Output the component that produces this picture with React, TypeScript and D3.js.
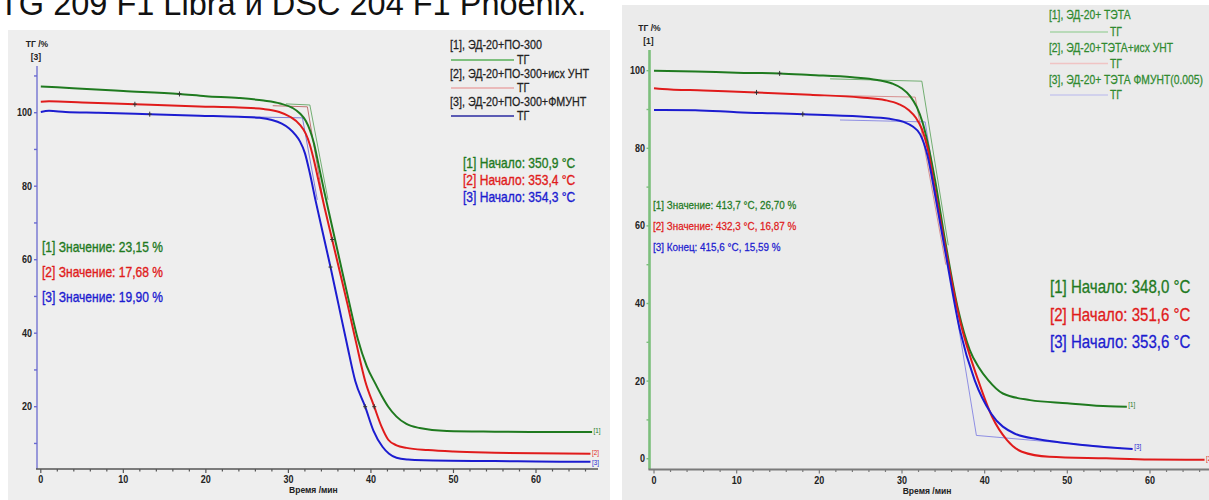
import React from 'react';
import * as d3 from 'd3';

type Pt = [number, number];

const FONT = '"Liberation Sans", Arial, Helvetica, sans-serif';

const heading = 'TG 209 F1 Libra и DSC 204 F1 Phoenix.';

// axis ticks (time in minutes, mass in %)
const timeTicks = [0, 10, 20, 30, 40, 50, 60];
const leftPctTicks = [20, 40, 60, 80, 100];
const rightPctTicks = [0, 20, 40, 60, 80, 100];
const timeTitle = 'Время /мин';
const massTitle = 'ТГ /%';

// ---------- left panel: ЭД-20 + ПО-300 ----------
const leftGreen: Pt[] = [
  [0, 107.1], [2, 106.9], [5, 106.5], [10, 105.9], [16.8, 105.1], [20, 104.5], [24, 104.0],
  [27, 103.3], [29, 102.5], [30.5, 101.3], [31.4, 99.8], [32.1, 97.8], [32.6, 95.3],
  [33.1, 91.6], [33.5, 87.5], [34.3, 79], [35.2, 70], [36.2, 60], [37.3, 49], [38.4, 38.5],
  [39.5, 31], [40.6, 26], [41.3, 23], [42.1, 20], [43.1, 17.3], [44.3, 15.3], [45.9, 14.2],
  [49.2, 13.4], [55, 13.2], [60, 13.1], [66.8, 13.1],
];
const leftRed: Pt[] = [
  [0, 103.0], [1, 103.1], [5, 102.8], [11.4, 102.3], [19.2, 101.7], [24, 101.4], [27, 101.0],
  [28.9, 100.2], [30.2, 98.9], [31.4, 96.7], [32.1, 94.3], [32.6, 91.3], [33.1, 87],
  [33.6, 82], [34.4, 74], [35.3, 65.5], [36.2, 57], [37.2, 47.5], [38.2, 37.5], [39.3, 27],
  [40.4, 20], [41.3, 14.5], [42.1, 11], [43.1, 9.5], [44.3, 8.8], [46.9, 8.2], [50, 7.8],
  [55, 7.5], [60, 7.3], [66.6, 7.2],
];
const leftBlue: Pt[] = [
  [0, 100.2], [1, 100.5], [3, 100.2], [7, 100.0], [13.2, 99.6], [19.2, 99.2], [24, 98.9],
  [26.5, 98.6], [28, 98.0], [29.2, 97.0], [30.1, 95.7], [30.8, 94.1], [31.4, 92.2], [32, 89],
  [32.6, 83.5], [33.3, 76], [34.2, 67], [35.1, 58], [36.1, 47.5], [37.1, 37], [38.1, 27],
  [39.3, 20], [40.3, 13.5], [41.4, 9.1], [42.2, 7.2], [43.1, 6.1], [44.5, 5.6], [46.4, 5.4],
  [55, 5.2], [60, 5.1], [66.6, 5.0],
];
// onset construction lines
const leftGreenOnset: Pt[] = [[29.7, 102.4], [32.6, 102.1], [34.8, 76.3]];
const leftRedOnset: Pt[] = [[28.1, 101.9], [32.3, 101.6], [34.2, 76.3]];
const leftBlueOnset: Pt[] = [[24, 98.9], [31.7, 98.6], [33.5, 76.3]];
const leftMarks: Pt[] = [
  [16.8, 105.1], [11.4, 102.3], [13.2, 99.6], [35.3, 65.5], [35.1, 58], [39.3, 20], [40.4, 20],
];
const leftLegend = ['[1], ЭД-20+ПО-300', '[2], ЭД-20+ПО-300+исх УНТ', '[3], ЭД-20+ПО-300+ФМУНТ'];
const leftResidue = ['[1] Значение: 23,15 %', '[2] Значение: 17,68 %', '[3] Значение: 19,90 %'];
const leftOnset = ['[1] Начало: 350,9 °C', '[2] Начало: 353,4 °C', '[3] Начало: 354,3 °C'];

// ---------- right panel: ЭД-20 + ТЭТА ----------
const rightGreen: Pt[] = [
  [0, 100], [5, 99.8], [10, 99.5], [15.2, 99.3], [18.9, 98.9], [24, 98.3], [27, 97.6],
  [28.8, 96.7], [30, 95.4], [31, 93.4], [31.8, 90.6], [32.5, 86.6], [33.2, 80.5], [34, 71.8],
  [35.2, 56.4], [36.8, 38.3], [38.2, 28], [39.3, 23.5], [40.4, 20.3], [42.2, 16.8],
  [45.5, 15.1], [50, 14.3], [55, 13.5], [57.2, 13.4],
];
const rightRed: Pt[] = [
  [0, 95.5], [1, 95.3], [6, 94.9], [12.4, 94.4], [18.9, 93.8], [25, 93.1], [28, 92.4],
  [29.6, 91.4], [30.8, 89.9], [31.7, 87.8], [32.4, 85], [33.1, 80], [34, 69.2], [35.2, 55],
  [37, 35.7], [39.2, 20.3], [40.9, 10.8], [42.7, 4.8], [44.5, 1.8], [47.8, 0.5], [54.7, 0.1],
  [60, -0.2], [66.6, -0.3],
];
const rightBlue: Pt[] = [
  [0, 89.9], [5, 89.8], [10, 89.3], [18, 88.8], [25, 88.2], [28.5, 87.6], [30.2, 86.8],
  [31.3, 85.6], [32.2, 83.6], [33.1, 78], [34, 68], [35.2, 53.8], [37, 33.2], [38.8, 20.2],
  [40.8, 11.6], [43.6, 6.5], [46.5, 5], [50, 4.0], [56.5, 2.7], [57.9, 2.5],
];
const rightGreenOnset: Pt[] = [[21.3, 97.9], [32.4, 97.3], [35.6, 55]];
const rightRedOnset: Pt[] = [[22, 93.6], [31.6, 93.2], [35.3, 50]];
const rightBlueOnset: Pt[] = [[22.5, 87.3], [32.8, 86.8], [39.0, 6.0], [56.5, 2.75]];
const rightMarks: Pt[] = [[15.2, 99.3], [12.4, 94.4], [18, 88.8]];
const rightLegend = ['[1], ЭД-20+ ТЭТА', '[2], ЭД-20+ТЭТА+исх УНТ', '[3], ЭД-20+ ТЭТА ФМУНТ(0.005)'];
const rightValues = ['[1] Значение: 413,7 °C, 26,70 %', '[2] Значение: 432,3 °C, 16,87 %', '[3] Конец: 415,6 °C, 15,59 %'];
const rightOnset = ['[1] Начало: 348,0 °C', '[2] Начало: 351,6 °C', '[3] Начало: 353,6 °C'];

const GREEN = '#1f7a1f';
const RED = '#e01b1b';
const BLUE = '#1c1cd0';
const seriesColors = [GREEN, RED, BLUE];

type TextProps = {
  x: number; y: number; size: number; fill?: string; sx?: number; heavy?: number;
  anchor?: 'start' | 'middle' | 'end'; weight?: number; children: React.ReactNode;
};
// condensed text, like the instrument software's narrow font
function NText({ x, y, size, fill = '#222', sx = 0.86, anchor = 'start', weight = 400, heavy = 0, children }: TextProps) {
  return (
    <text
      transform={`translate(${x},${y}) scale(${sx},1)`}
      fontFamily={FONT}
      fontSize={size}
      fill={fill}
      stroke={heavy ? fill : 'none'}
      strokeWidth={heavy}
      textAnchor={anchor}
      fontWeight={weight}
    >
      {children}
    </text>
  );
}

type Series = { data: Pt[]; color: string; tag: string; tagDy: number };
type PanelProps = {
  bg: { x: number; y: number; w: number; h: number; fill: string };
  x: d3.ScaleLinear<number, number>;
  y: d3.ScaleLinear<number, number>;
  yAxisX: number; yAxisTop: number; xAxisY: number; xAxisEnd: number;
  yAxisColor: string; yAxisWidth: number; xAxisColor: string; xAxisWidth: number;
  yTicks: number[]; ySub: string; tickLabelRight: number; titleY: number;
  series: Series[];
  onset: { data: Pt[]; color: string }[];
  marks: Pt[];
};

function Panel(p: PanelProps) {
  const line = d3.line<Pt>().x(d => p.x(d[0])).y(d => p.y(d[1])).curve(d3.curveMonotoneX);
  const straight = d3.line<Pt>().x(d => p.x(d[0])).y(d => p.y(d[1]));
  const tMax = p.x.invert(p.xAxisEnd);
  const minorX = d3.range(0, tMax, 2);
  const minorY = d3.range(-10, 121, 10).filter(v => p.y(v) >= p.yAxisTop + 2 && p.y(v) <= p.xAxisY - 2);
  const labelX = (p.x(0) + p.x(60)) / 2 + 25;
  return (
    <g>
      <rect x={p.bg.x} y={p.bg.y} width={p.bg.w} height={p.bg.h} fill={p.bg.fill} />
      {/* axis titles */}
      <NText x={p.yAxisX} y={p.titleY} size={9.5} anchor="middle" sx={0.9} weight={700}>{massTitle}</NText>
      <NText x={p.yAxisX - 1} y={p.titleY + 13} size={9.5} anchor="middle" sx={0.9} weight={700}>{p.ySub}</NText>
      <NText x={labelX} y={p.xAxisY + 24} size={9.5} anchor="middle" sx={0.9} weight={700}>{timeTitle}</NText>
      {/* y axis */}
      <line x1={p.yAxisX} x2={p.yAxisX} y1={p.yAxisTop} y2={p.xAxisY} stroke={p.yAxisColor} strokeWidth={p.yAxisWidth} />
      {minorY.map(v => (
        <line key={'my' + v} x1={p.yAxisX - 3} x2={p.yAxisX} y1={p.y(v)} y2={p.y(v)} stroke={p.yAxisColor} strokeWidth={1.4} />
      ))}
      {p.yTicks.map(v => (
        <NText key={'ty' + v} x={p.tickLabelRight} y={p.y(v) + 3.5} size={10} anchor="end" sx={0.9} weight={700}>{v}</NText>
      ))}
      {/* x axis */}
      <line x1={p.yAxisX - 1} x2={p.xAxisEnd} y1={p.xAxisY} y2={p.xAxisY} stroke={p.xAxisColor} strokeWidth={p.xAxisWidth} />
      {minorX.map(v => (
        <line key={'mx' + v} x1={p.x(v)} x2={p.x(v)} y1={p.xAxisY} y2={p.xAxisY + (v % 10 === 0 ? 4 : 2.5)} stroke={p.xAxisColor} strokeWidth={1.2} />
      ))}
      {timeTicks.map(v => (
        <NText key={'tx' + v} x={p.x(v)} y={p.xAxisY + 14} size={10} anchor="middle" sx={0.9} weight={700}>{v}</NText>
      ))}
      {/* onset construction lines */}
      {p.onset.map((o, i) => (
        <path key={'on' + i} d={straight(o.data) || ''} fill="none" stroke={o.color} strokeWidth={1} opacity={0.75} />
      ))}
      {/* TG curves */}
      {p.series.map((s, i) => (
        <path key={'s' + i} d={line(s.data) || ''} fill="none" stroke={s.color} strokeWidth={2} strokeLinejoin="round" />
      ))}
      {p.marks.map((m, i) => (
        <g key={'m' + i} transform={`translate(${p.x(m[0])},${p.y(m[1])})`} stroke="#333" strokeWidth={1}>
          <line x1={-2} x2={2} y1={0} y2={0} />
          <line x1={0} x2={0} y1={-2.5} y2={2.5} />
        </g>
      ))}
      {p.series.map((s, i) => {
        const last = s.data[s.data.length - 1];
        return (
          <NText key={'tag' + i} x={p.x(last[0]) + 1.5} y={p.y(last[1]) + s.tagDy} size={7} fill={s.color} sx={0.9}>{s.tag}</NText>
        );
      })}
    </g>
  );
}

export default function App() {
  const xL = d3.scaleLinear().domain([0, 60]).range([40.8, 536]);
  const yL = d3.scaleLinear().domain([20, 100]).range([406.7, 112.7]);
  const xR = d3.scaleLinear().domain([0, 60]).range([654, 1150]);
  const yR = d3.scaleLinear().domain([0, 100]).range([458.7, 70.7]);

  const leftSeries: Series[] = [
    { data: leftGreen, color: GREEN, tag: '[1]', tagDy: 1 },
    { data: leftRed, color: RED, tag: '[2]', tagDy: 1 },
    { data: leftBlue, color: BLUE, tag: '[3]', tagDy: 3 },
  ];
  const rightSeries: Series[] = [
    { data: rightGreen, color: GREEN, tag: '[1]', tagDy: 0 },
    { data: rightRed, color: RED, tag: '[2]', tagDy: 1 },
    { data: rightBlue, color: BLUE, tag: '[3]', tagDy: 0 },
  ];

  const leftLegendLines = ['#58b058', '#e8a8a8', '#2a2aa0'];
  const rightLegendLines = ['#a8d4a8', '#f0c4c4', '#c8c8ec'];

  return (
    <svg
      width={1209}
      height={500}
      viewBox="0 0 1209 500"
      style={{ position: 'absolute', left: 0, top: 0, display: 'block', background: '#fff' }}
    >
      <text x={-1} y={15} fontFamily={FONT} fontSize={32.5} fill="#111">{heading}</text>

      <Panel
        bg={{ x: 8, y: 30, w: 602, h: 470, fill: '#eeeeee' }}
        x={xL} y={yL}
        yAxisX={37} yAxisTop={66} xAxisY={469} xAxisEnd={598}
        yAxisColor="#6a6ad0" yAxisWidth={1.3} xAxisColor="#555" xAxisWidth={1.6}
        yTicks={leftPctTicks} ySub="[3]" tickLabelRight={32} titleY={47}
        series={leftSeries}
        onset={[
          { data: leftGreenOnset, color: '#4a9a4a' },
          { data: leftRedOnset, color: '#b04848' },
          { data: leftBlueOnset, color: '#5a5ad0' },
        ]}
        marks={leftMarks}
      />

      <Panel
        bg={{ x: 622, y: 5, w: 587, h: 495, fill: '#ebebeb' }}
        x={xR} y={yR}
        yAxisX={649.5} yAxisTop={50} xAxisY={469.5} xAxisEnd={1209}
        yAxisColor="#7cbf7c" yAxisWidth={2.6} xAxisColor="#7a7a7a" xAxisWidth={2}
        yTicks={rightPctTicks} ySub="[1]" tickLabelRight={645} titleY={31}
        series={rightSeries}
        onset={[
          { data: rightGreenOnset, color: '#4a9a4a' },
          { data: rightRedOnset, color: '#d07070' },
          { data: rightBlueOnset, color: '#6f6fe0' },
        ]}
        marks={rightMarks}
      />

      {/* left legend */}
      {leftLegend.map((t, i) => (
        <g key={'ll' + i}>
          <NText x={450} y={49 + i * 28.5} size={12.5} fill="#222" heavy={0.25}>{t}</NText>
          <line x1={451} x2={514} y1={60 + i * 28} y2={60 + i * 28} stroke={leftLegendLines[i]} strokeWidth={1.5} />
          <NText x={517} y={64 + i * 28} size={12.5} fill="#222" heavy={0.25}>ТГ</NText>
        </g>
      ))}

      {/* right legend */}
      {rightLegend.map((t, i) => (
        <g key={'rl' + i}>
          <NText x={1049} y={19 + i * 32.5} size={12} fill="#2f8a2f" heavy={0.25}>{t}</NText>
          <line x1={1050} x2={1108} y1={32 + i * 31.5} y2={32 + i * 31.5} stroke={rightLegendLines[i]} strokeWidth={1.5} />
          <NText x={1110} y={36 + i * 31.5} size={12} fill="#2f8a2f" heavy={0.25}>ТГ</NText>
        </g>
      ))}

      {/* left annotations */}
      {leftResidue.map((t, i) => (
        <NText key={'lr' + i} x={42} y={251.5 + i * 25} size={14} fill={seriesColors[i]} heavy={0.35}>{t}</NText>
      ))}
      {leftOnset.map((t, i) => (
        <NText key={'lo' + i} x={463} y={168 + i * 17} size={14} fill={seriesColors[i]} heavy={0.35}>{t}</NText>
      ))}

      {/* right annotations */}
      {rightValues.map((t, i) => (
        <NText key={'rv' + i} x={653} y={209 + i * 20.8} size={11.5} fill={seriesColors[i]} heavy={0.25}>{t}</NText>
      ))}
      {rightOnset.map((t, i) => (
        <NText key={'ro' + i} x={1050} y={293 + i * 27.5} size={17.5} fill={seriesColors[i]} heavy={0.3}>{t}</NText>
      ))}
    </svg>
  );
}
